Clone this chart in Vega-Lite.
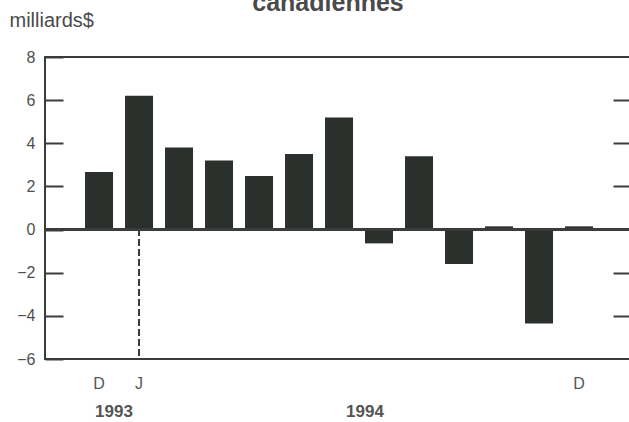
{
  "$schema": "https://vega.github.io/schema/vega-lite/v6.json",
  "autosize": "none",
  "width": 586,
  "height": 302,
  "padding": {"left": 45, "top": 57, "right": 0, "bottom": 63},
  "background": "white",
  "config": {
    "font": "Liberation Sans",
    "view": {"stroke": "#3a3d3b", "strokeWidth": 2},
    "axis": {"grid": false, "domain": false}
  },
  "title": {
    "text": "canadiennes",
    "fontSize": 25,
    "fontWeight": "bold",
    "color": "#4a4a4a",
    "anchor": "middle",
    "frame": "group",
    "baseline": "alphabetic",
    "offset": 0,
    "dy": 26,
    "dx": -10
  },
  "data": {
    "values": [
      {"m": "1993-12", "v": 2.67},
      {"m": "1994-01", "v": 6.2},
      {"m": "1994-02", "v": 3.8},
      {"m": "1994-03", "v": 3.2},
      {"m": "1994-04", "v": 2.48},
      {"m": "1994-05", "v": 3.5},
      {"m": "1994-06", "v": 5.2},
      {"m": "1994-07", "v": -0.64},
      {"m": "1994-08", "v": 3.4},
      {"m": "1994-09", "v": -1.6},
      {"m": "1994-10", "v": 0.15},
      {"m": "1994-11", "v": -4.35},
      {"m": "1994-12", "v": 0.15}
    ]
  },
  "layer": [
    {
      "mark": {"type": "bar", "color": "#2b302d"},
      "encoding": {
        "x": {
          "field": "m",
          "type": "ordinal",
          "sort": null,
          "scale": {"paddingInner": 0.3, "paddingOuter": 0.975, "align": 0.513},
          "axis": {
            "orient": "bottom",
            "title": null,
            "ticks": false,
            "labelAngle": 0,
            "labelOverlap": false,
            "labelPadding": 16,
            "labelFontSize": 16,
            "labelColor": "#555555",
            "labelExpr": "datum.value == '1993-12' ? 'D' : datum.value == '1994-01' ? 'J' : datum.value == '1994-12' ? 'D' : ''"
          }
        },
        "y": {
          "field": "v",
          "type": "quantitative",
          "scale": {"domain": [-6, 8], "nice": false, "zero": false},
          "axis": {
            "orient": "left",
            "values": [-6, -4, -2, 0, 2, 4, 6, 8],
            "tickSize": -18,
            "tickWidth": 2,
            "tickColor": "#3a3d3b",
            "labelPadding": 28,
            "labelFontSize": 16,
            "labelColor": "#4f4f4f",
            "title": "milliards$",
            "titleAngle": 0,
            "titleAlign": "left",
            "titleBaseline": "alphabetic",
            "titleX": -36,
            "titleY": -31,
            "titleFontSize": 20,
            "titleFontWeight": "normal",
            "titleColor": "#4a4a4a"
          }
        }
      }
    },
    {
      "mark": {"type": "rule", "color": "#3a3d3b", "strokeWidth": 2},
      "encoding": {
        "y": {
          "datum": 0,
          "type": "quantitative",
          "axis": {
            "orient": "right",
            "values": [-4, -2, 2, 4, 6],
            "labels": false,
            "title": null,
            "tickSize": -18,
            "tickWidth": 2,
            "tickColor": "#3a3d3b"
          }
        }
      }
    },
    {
      "mark": {"type": "rule", "color": "#3a3d3b", "strokeWidth": 1.5, "strokeDash": [6, 4]},
      "encoding": {
        "x": {
          "datum": "1994-01",
          "type": "ordinal",
          "axis": {
            "orient": "bottom",
            "title": null,
            "ticks": false,
            "labelAngle": 0,
            "labelOverlap": false,
            "labelPadding": 44,
            "labelFontSize": 17,
            "labelFontWeight": "bold",
            "labelColor": "#555555",
            "labelOffset": {"condition": {"test": "datum.value == '1993-12'", "value": 15}, "value": -14},
            "labelExpr": "datum.value == '1993-12' ? '1993' : datum.value == '1994-07' ? '1994' : ''"
          }
        },
        "y": {"datum": 0, "type": "quantitative", "axis": null},
        "y2": {"datum": -6}
      }
    }
  ],
  "resolve": {"axis": {"x": "independent", "y": "independent"}}
}
